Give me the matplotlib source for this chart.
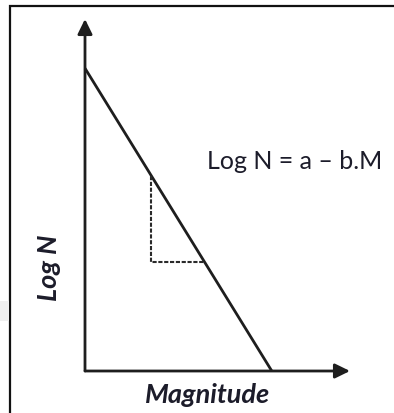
import matplotlib
matplotlib.use("Agg")
import matplotlib.pyplot as plt
from matplotlib.patches import Rectangle
import numpy as np

# Gutenberg-Richter relation: Log N = a - b.M
a_value = 8.6
b_value = 1.22
magnitude_range = [0.0, a_value / b_value]
slope_triangle_m = [2.5, 4.5]

x_label = "Magnitude"
y_label = "Log N"
equation = "Log N = a \u2013 b.M"

W, H = 394, 414
fig = plt.figure(figsize=(W / 100, H / 100), dpi=100)
fig.patch.set_facecolor("white")

# outer frame (runs off the right and bottom edges)
fig.add_artist(Rectangle((10 / W, -0.05), 1.1, (H - 7) / H + 0.05,
                         transform=fig.transFigure, fill=False,
                         edgecolor="#111111", lw=1.6))
fig.add_artist(Rectangle((0, 1 - 322 / H), 9 / W, 20 / H,
                         transform=fig.transFigure, facecolor="#efefef",
                         edgecolor="none"))

ax = fig.add_axes([85 / W, (H - 372) / H, 265 / W, 352 / H])
ax.set_xlim(0, 10)
ax.set_ylim(0, 10)
ax.set_facecolor("none")
for s in ax.spines.values():
    s.set_visible(False)
ax.set_xticks([])
ax.set_yticks([])

line_color = "#1e1e1e"
arrow = dict(arrowstyle="-|>,head_length=0.45,head_width=0.22",
             lw=2.0, color=line_color, mutation_scale=20,
             shrinkA=0, shrinkB=0)
ax.annotate("", xy=(1, 0), xytext=(0, 0), xycoords="axes fraction",
            arrowprops=arrow, annotation_clip=False)
ax.annotate("", xy=(0, 1), xytext=(0, 0), xycoords="axes fraction",
            arrowprops=arrow, annotation_clip=False)

m = np.array(magnitude_range)
log_n = a_value - b_value * m
ax.plot(m, log_n, color=line_color, lw=2.0, solid_capstyle="butt",
        clip_on=False)

m1, m2 = slope_triangle_m
n1 = a_value - b_value * m1
n2 = a_value - b_value * m2
ax.plot([m1, m1, m2], [n1, n2, n2], color="#2a2a2a", lw=1.5,
        linestyle=(0, (2.0, 0.8)), clip_on=False)

text_color = "#1c1c2a"
fig.text(207 / W, 1 - 162 / H, equation, ha="left", va="center",
         fontsize=18, family="Lato", color=text_color)
fig.text(208 / W, 1 - 395 / H, x_label, ha="center", va="center",
         fontsize=19.5, family="Lato", style="italic", weight="bold",
         color=text_color)
fig.text(49 / W, 1 - 268 / H, y_label, ha="center", va="center",
         rotation=90, fontsize=19.5, family="Lato", style="italic",
         weight="bold", color=text_color)

fig.savefig("out.png", dpi=100)
